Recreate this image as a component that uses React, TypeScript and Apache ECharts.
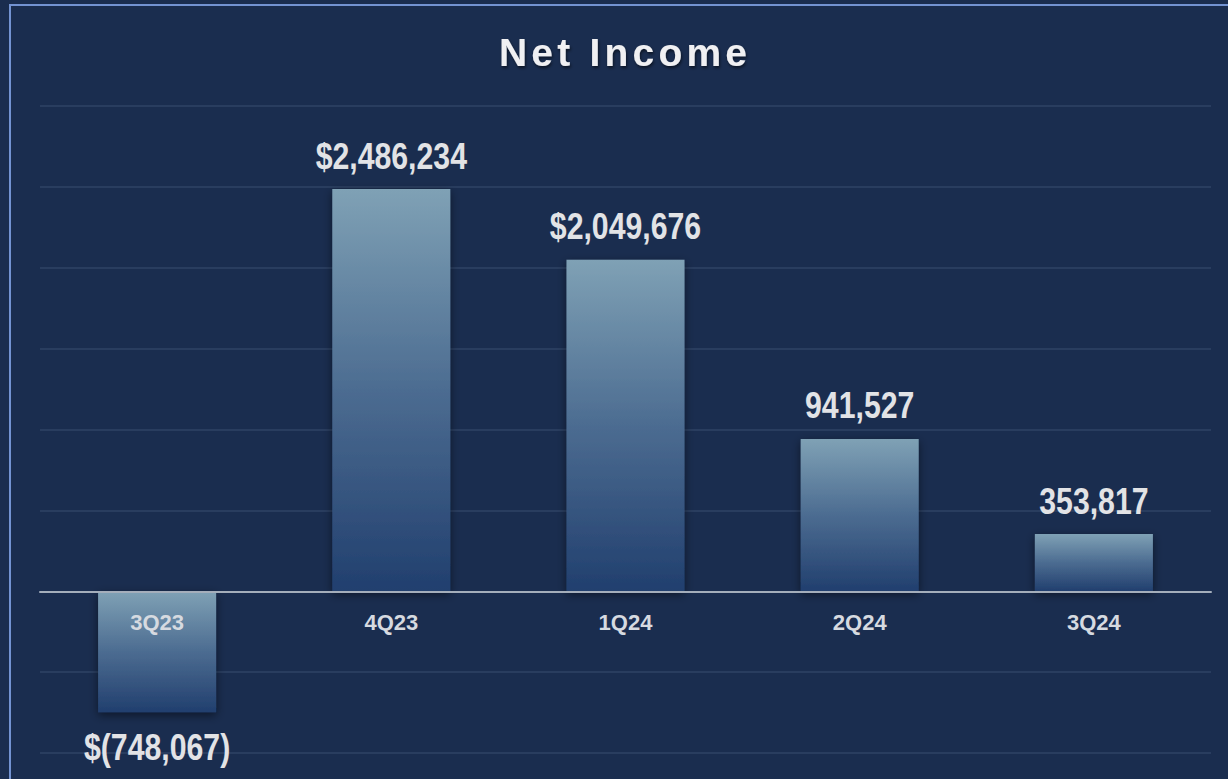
import React, { useEffect, useRef } from "react";
import * as echarts from "echarts";

const categories = ["3Q23", "4Q23", "1Q24", "2Q24", "3Q24"];
const netIncome = [-748067, 2486234, 2049676, 941527, 353817];
const valueLabels = ["$(748,067)", "$2,486,234", "$2,049,676", "941,527", "353,817"];
const yMin = -1000000;
const yMax = 3000000;
const yInterval = 500000;

export default function App() {
  const ref = useRef<HTMLDivElement>(null);
  useEffect(() => {
    if (!ref.current) return;
    const chart = echarts.init(ref.current, null, { renderer: "svg" });
    const font = "'Liberation Sans', Arial, sans-serif";
    chart.setOption({
      animation: false,
      backgroundColor: "#1a2d4f",
      title: {
        text: "Net Income",
        left: 494,
        top: 28,
        textStyle: {
          fontFamily: font,
          fontWeight: "bold",
          fontSize: 39,
          color: "#f0f0f2",
          textShadowColor: "rgba(0,0,0,0.55)",
          textShadowBlur: 3,
          textShadowOffsetX: 1,
          textShadowOffsetY: 2,
        },
      },
      graphic: [
        {
          type: "rect",
          silent: true,
          shape: { x: 10, y: 5, width: 1400, height: 1000 },
          style: { fill: "none", stroke: "#7393d2", lineWidth: 2 },
        },
      ],
      grid: { left: 40, right: 17, top: 106, bottom: 26, containLabel: false, outerBoundsMode: "none" },
      xAxis: {
        type: "category",
        data: categories,
        z: 10,
        position: "bottom",
        offset: -161,
        axisLine: { onZero: false, lineStyle: { color: "#a4aebb", width: 2 } },
        axisTick: { show: false },
        axisLabel: {
          margin: 19,
          fontFamily: font,
          fontWeight: "bold",
          fontSize: 22,
          color: "#d6dae0",
        },
      },
      yAxis: {
        type: "value",
        min: yMin,
        max: yMax,
        interval: yInterval,
        axisLine: { show: false },
        axisTick: { show: false },
        axisLabel: { show: false },
        splitLine: { lineStyle: { color: "#2f4365", width: 1.5 } },
      },
      series: [
        {
          type: "bar",
          barWidth: 118,
          emphasis: { disabled: true },
          data: netIncome.map((v) => ({
            value: v,
            label: { position: v < 0 ? "bottom" : "top", distance: v < 0 ? 17 : 15 },
          })),
          itemStyle: {
            color: new echarts.graphic.LinearGradient(0, 0, 0, 1, [
              { offset: 0, color: "#7fa1b5" },
              { offset: 0.5, color: "#4c6c91" },
              { offset: 1, color: "#213f6e" },
            ]),
            shadowColor: "rgba(0,0,0,0.5)",
            shadowBlur: 10,
            shadowOffsetY: 3,
          },
          label: {
            show: true,
            fontFamily: font,
            fontWeight: "bold",
            fontSize: 36,
            color: "#e2e3e6",
            formatter: (p: any) => valueLabels[p.dataIndex],
          },
        },
      ],
    });
    const texts = ref.current.querySelectorAll("text");
    texts.forEach((t) => {
      const s = t.textContent || "";
      if (s === "Net Income") {
        t.setAttribute("letter-spacing", "4.2");
      } else if (valueLabels.indexOf(s) >= 0) {
        try {
          const w = (t as SVGTextElement).getComputedTextLength();
          t.setAttribute("textLength", String(w * 0.84));
          t.setAttribute("lengthAdjust", "spacingAndGlyphs");
        } catch (e) {}
      }
    });
    return () => chart.dispose();
  }, []);
  return (
    <div
      style={{
        position: "fixed",
        left: 0,
        top: 0,
        width: 1228,
        height: 779,
        background: "#1c2e51",
      }}
    >
      <div ref={ref} style={{ width: 1228, height: 779 }} />
    </div>
  );
}
